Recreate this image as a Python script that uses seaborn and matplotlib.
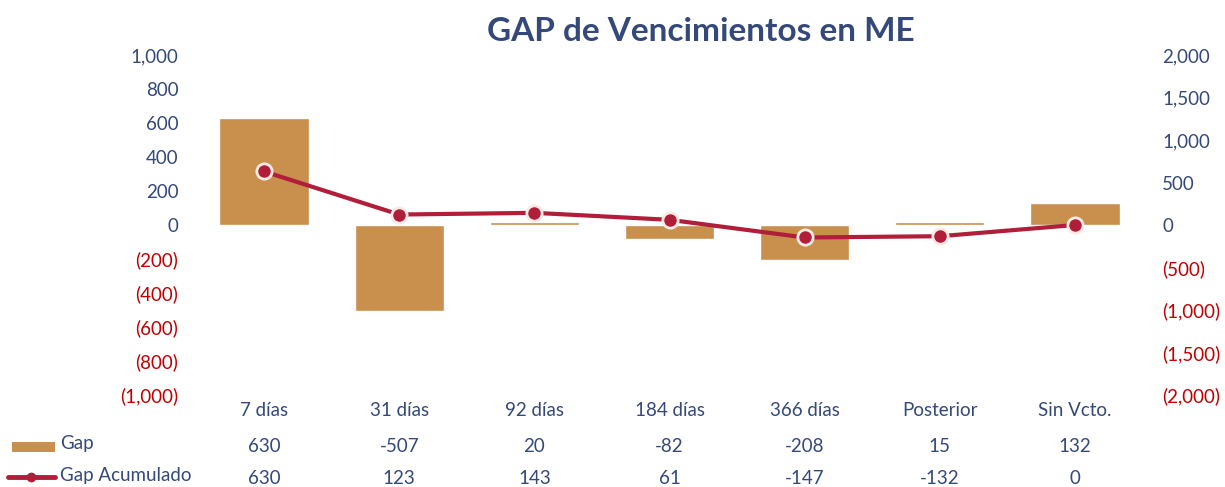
import matplotlib
matplotlib.use("Agg")
import matplotlib.pyplot as plt
import seaborn as sns
import numpy as np
from matplotlib.patches import Rectangle
from matplotlib.lines import Line2D

categories = ["7 días", "31 días", "92 días", "184 días", "366 días", "Posterior", "Sin Vcto."]
gap = [630, -507, 20, -82, -208, 15, 132]
gap_acum = [630, 123, 143, 61, -147, -132, 0]
left_ticks = [1000, 800, 600, 400, 200, 0, -200, -400, -600, -800, -1000]
right_ticks = [2000, 1500, 1000, 500, 0, -500, -1000, -1500, -2000]

BLUE = "#34497A"
RED = "#C00000"
BAR = "#C98F4C"
LINE = "#B01E3A"
FS = 13.5

sns.set_theme(style="white")
plt.rcParams["font.family"] = ["Lato", "DejaVu Sans"]

fig = plt.figure(figsize=(12.25, 4.87), dpi=100)
ax = fig.add_axes([0.1604, 0.189, 0.7723, 0.698])
x = np.arange(len(categories))

sns.barplot(x=x, y=gap, ax=ax, color=BAR, width=0.66, saturation=1, native_scale=False)
ax.set_xlim(-0.5, len(categories) - 0.5)
ax.set_ylim(-1000, 1000)
ax.set_yticks(left_ticks)

def fmt(v):
    return f"({abs(v):,})" if v < 0 else f"{v:,}"

ax.set_yticklabels([fmt(v) for v in left_ticks])
for lab, v in zip(ax.get_yticklabels(), left_ticks):
    lab.set_color(RED if v < 0 else BLUE)
ax.tick_params(axis="y", length=0, labelsize=FS, pad=13)
ax.set_xticks([])
ax.set_xlabel("")
for s in ax.spines.values():
    s.set_visible(False)

ax2 = ax.twinx()
sns.lineplot(x=x, y=gap_acum, ax=ax2, color=LINE, linewidth=3, marker="o",
             markersize=11, markerfacecolor=LINE, markeredgecolor="#FBE9E4",
             markeredgewidth=2, sort=False)
ax2.set_ylim(-2000, 2000)
ax2.set_yticks(right_ticks)
ax2.set_yticklabels([fmt(v) for v in right_ticks])
for lab, v in zip(ax2.get_yticklabels(), right_ticks):
    lab.set_color(RED if v < 0 else BLUE)
ax2.tick_params(axis="y", length=0, labelsize=FS, pad=14)
ax2.set_ylabel("")
for s in ax2.spines.values():
    s.set_visible(False)
ax2.set_xlim(-0.5, len(categories) - 0.5)

fig.text(0.572, 0.935, "GAP de Vencimientos en ME", ha="center", va="center",
         fontsize=24, fontweight="bold", color=BLUE)

# data table
tr = ax.get_xaxis_transform()
def yax(py):
    fy = 1 - py / 487
    return (fy - 0.189) / 0.698

for i, c in enumerate(categories):
    ax.text(i, yax(411), c, transform=tr, ha="center", va="center", fontsize=FS, color=BLUE, clip_on=False)
    ax.text(i, yax(447), f"{gap[i]}", transform=tr, ha="center", va="center", fontsize=FS, color=BLUE, clip_on=False)
    ax.text(i, yax(478), f"{gap_acum[i]}", transform=tr, ha="center", va="center", fontsize=FS, color=BLUE, clip_on=False)

# legend keys
fig.patches.append(Rectangle((12 / 1225, 1 - 452 / 487), 43 / 1225, 10 / 487,
                             transform=fig.transFigure, facecolor=BAR, edgecolor="none"))
fig.text(60 / 1225, 1 - 443 / 487, "Gap", ha="left", va="center", fontsize=FS, color=BLUE)
fig.lines.append(Line2D([8 / 1225, 55 / 1225], [1 - 477 / 487, 1 - 477 / 487],
                        transform=fig.transFigure, color=LINE, linewidth=3.5))
fig.lines.append(Line2D([31 / 1225], [1 - 477 / 487], transform=fig.transFigure,
                        marker="o", markersize=6, color=LINE, markeredgecolor=LINE))
fig.text(60 / 1225, 1 - 476 / 487, "Gap Acumulado", ha="left", va="center", fontsize=FS, color=BLUE)

fig.savefig("out.png", dpi=100, facecolor="white")
